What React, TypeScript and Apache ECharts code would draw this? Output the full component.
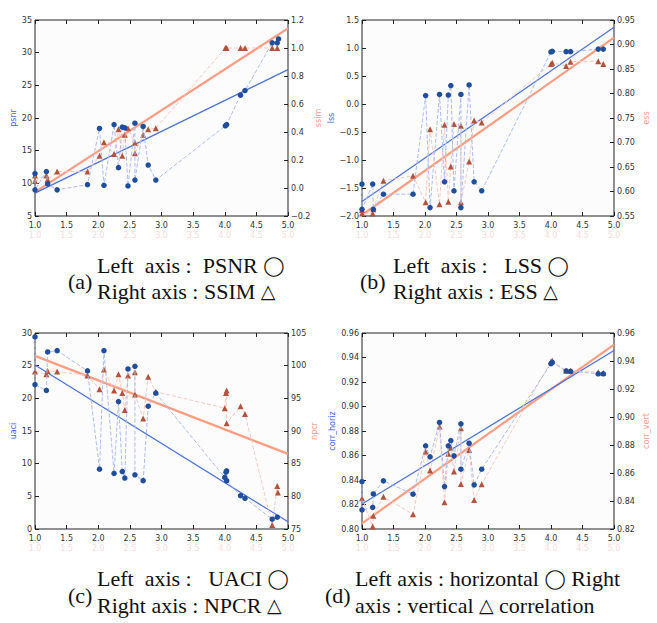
import React, { useEffect, useRef } from "react";
import * as echarts from "echarts";

// X-axis ticks shared by all four panels
const xTicks = { min: 1.0, max: 5.0, interval: 0.5 };

// (a) PSNR (left, circles) and SSIM (right, triangles)
const psnr: number[][] = [[1.0,11.5],[1.0,9.0],[1.18,11.8],[1.2,9.9],[1.35,9.0],[1.83,9.8],[2.02,18.4],[2.09,9.7],[2.25,19.0],[2.32,12.4],[2.38,18.6],[2.42,18.5],[2.47,9.6],[2.58,19.2],[2.58,10.5],[2.71,18.7],[2.79,12.8],[2.91,10.5],[4.01,18.8],[4.03,19.0],[4.25,23.5],[4.32,24.2],[4.75,31.5],[4.83,31.5],[4.85,32.1]];
const ssim: number[][] = [[1.0,0.09],[1.0,0.05],[1.18,0.09],[1.2,0.06],[1.35,0.117],[1.83,0.117],[2.02,0.23],[2.09,0.326],[2.25,0.243],[2.32,0.42],[2.38,0.23],[2.42,0.38],[2.47,0.426],[2.58,0.324],[2.58,0.248],[2.71,0.38],[2.79,0.42],[2.91,0.426],[4.01,1.0],[4.03,1.0],[4.25,1.0],[4.32,1.0],[4.75,1.0],[4.83,1.0]];
const psnrFit: number[][] = [[1.0,8.5],[5.0,27.4]];
const ssimFit: number[][] = [[1.0,-0.03],[5.0,1.14]];

// (b) LSS (left) and ESS (right)
const lss: number[][] = [[1.0,-1.43],[1.0,-1.88],[1.17,-1.43],[1.18,-1.88],[1.34,-1.61],[1.81,-1.61],[2.01,0.15],[2.08,-1.85],[2.23,0.17],[2.31,-1.39],[2.37,0.16],[2.41,0.33],[2.46,-1.55],[2.57,0.17],[2.57,-1.85],[2.70,0.34],[2.78,-1.39],[2.90,-1.55],[4.0,0.93],[4.02,0.94],[4.24,0.935],[4.31,0.935],[4.75,0.98],[4.83,0.98]];
const ess: number[][] = [[1.0,0.562],[1.0,0.555],[1.17,0.555],[1.18,0.564],[1.34,0.622],[1.81,0.632],[2.01,0.578],[2.08,0.727],[2.23,0.574],[2.31,0.736],[2.37,0.579],[2.41,0.651],[2.46,0.738],[2.57,0.734],[2.57,0.578],[2.70,0.661],[2.78,0.745],[2.90,0.741],[4.0,0.86],[4.02,0.863],[4.24,0.856],[4.31,0.865],[4.75,0.866],[4.83,0.86]];
const lssFit: number[][] = [[1.0,-1.74],[5.0,1.37]];
const essFit: number[][] = [[1.0,0.552],[5.0,0.914]];

// (c) UACI (left) and NPCR (right)
const uaci: number[][] = [[1.0,29.4],[1.0,22.1],[1.18,21.2],[1.2,27.1],[1.35,27.3],[1.83,24.2],[2.02,9.15],[2.09,27.3],[2.25,8.5],[2.32,19.5],[2.38,8.8],[2.42,7.8],[2.47,24.5],[2.58,24.9],[2.58,8.3],[2.71,7.4],[2.79,18.8],[2.91,20.8],[4.0,7.9],[4.02,8.7],[4.03,8.9],[4.03,7.4],[4.25,5.1],[4.32,4.7],[4.75,1.5],[4.83,1.8]];
const npcr: number[][] = [[1.0,99.1],[1.18,98.7],[1.2,99.2],[1.35,99.1],[1.83,98.5],[2.02,96.4],[2.09,99.4],[2.25,96.2],[2.32,98.7],[2.38,95.8],[2.42,93.2],[2.47,98.5],[2.58,99.0],[2.58,95.6],[2.71,91.9],[2.79,98.3],[2.91,96.0],[4.0,93.5],[4.02,95.8],[4.03,96.2],[4.03,91.2],[4.25,93.8],[4.32,92.6],[4.75,75.6],[4.83,81.6],[4.84,80.6]];
const uaciFit: number[][] = [[1.0,25.1],[5.0,1.1]];
const npcrFit: number[][] = [[1.0,101.5],[5.0,86.5]];

// (d) horizontal (left) and vertical (right) correlation
const corrHoriz: number[][] = [[1.0,0.8387],[1.0,0.8156],[1.17,0.8177],[1.18,0.8286],[1.34,0.8393],[1.81,0.8284],[2.01,0.8679],[2.08,0.8589],[2.23,0.887],[2.31,0.8346],[2.37,0.8679],[2.41,0.8722],[2.46,0.8597],[2.57,0.8859],[2.57,0.8488],[2.70,0.87],[2.78,0.836],[2.90,0.8488],[4.0,0.935],[4.02,0.936],[4.24,0.929],[4.31,0.9287],[4.75,0.9267],[4.83,0.9267]];
const corrVert: number[][] = [[1.0,0.842],[1.17,0.8217],[1.18,0.8295],[1.34,0.8431],[1.81,0.8305],[2.01,0.8753],[2.08,0.8617],[2.23,0.8932],[2.31,0.8391],[2.37,0.8737],[2.41,0.8782],[2.46,0.861],[2.57,0.892],[2.57,0.8522],[2.70,0.8765],[2.78,0.8408],[2.90,0.852],[4.0,0.9397],[4.02,0.9402],[4.24,0.933],[4.31,0.933],[4.75,0.9319],[4.83,0.9314]];
const horizFit: number[][] = [[1.0,0.8205],[5.0,0.9458]];
const vertFit: number[][] = [[1.0,0.824],[5.0,0.9517]];

// Axis ranges [min, max, interval, decimals]
const leftRanges = [[5, 35, 5, 0], [-2.0, 1.5, 0.5, 1], [0, 30, 5, 0], [0.8, 0.96, 0.02, 2]];
const rightRanges = [[-0.2, 1.2, 0.2, 1], [0.55, 0.95, 0.05, 2], [75, 105, 5, 0], [0.82, 0.96, 0.02, 2]];
const leftNames = ["psnr", "lss", "uaci", "corr_horiz"];
const rightNames = ["ssim", "ess", "npcr", "corr_vert"];
const leftGaps = [18, 26, 18, 26];
const rightGaps = [26, 28, 20, 28];

// Captions ({s|…} marks the outline symbols)
const captions = [
  { tag: "(a)", l1: "Left  axis :  PSNR {s|◯}", l2: "Right axis : SSIM {s|△}" },
  { tag: "(b)", l1: "Left  axis :   LSS {s|◯}", l2: "Right axis : ESS {s|△}" },
  { tag: "(c)", l1: "Left  axis :   UACI {s|◯}", l2: "Right axis : NPCR {s|△}" },
  { tag: "(d)", l1: "Left axis : horizontal {s|◯} Right", l2: "axis : vertical {s|△} correlation" },
];

const grids = [
  { left: 35, top: 20, width: 253, height: 196 },
  { left: 362, top: 20, width: 252, height: 196 },
  { left: 35, top: 333, width: 253, height: 196 },
  { left: 362, top: 333, width: 252, height: 196 },
];
const capPos = [
  { tx: 68, x: 97, y1: 265, y2: 291, ty: 281 },
  { tx: 360, x: 393, y1: 265, y2: 291, ty: 281 },
  { tx: 68, x: 97, y1: 578, y2: 605, ty: 595 },
  { tx: 325, x: 355, y1: 578, y2: 605, ty: 595 },
];

const BLUE_PT = "#1f4e9c";
const RED_PT = "#b4533c";
const BLUE_DASH = "#aabbf0";
const RED_DASH = "#f6c8c1";
const BLUE_FIT = "#4a72de";
const RED_FIT = "#ff9d82";
const LABEL = "#333";
const FONT = "DejaVu Sans";

const fmt = (d: number) => (v: number) => v.toFixed(d).replace("-", "\u2212");

export default function App() {
  const ref = useRef<HTMLDivElement>(null);
  useEffect(() => {
    if (!ref.current) return;
    const chart = echarts.init(ref.current, null, { renderer: "svg" });
    const xAxis: any[] = [];
    const yAxis: any[] = [];
    const series: any[] = [];
    const panels = [
      [psnr, ssim, psnrFit, ssimFit],
      [lss, ess, lssFit, essFit],
      [uaci, npcr, uaciFit, npcrFit],
      [corrHoriz, corrVert, horizFit, vertFit],
    ];
    const tick = { inside: true, length: 4, lineStyle: { color: "#222" } };
    const noLine = { show: false, onZero: false };
    grids.forEach((g, i) => {
      xAxis.push({
        type: "value", gridIndex: i, position: "bottom", ...xTicks,
        axisLine: noLine, axisTick: tick, splitLine: { show: false },
        axisLabel: { formatter: fmt(1), color: LABEL, fontSize: 8, fontFamily: FONT, margin: 5 },
      });
      xAxis.push({
        type: "value", gridIndex: i, position: "bottom", offset: 10, ...xTicks,
        axisLine: noLine, axisTick: { show: false }, splitLine: { show: false },
        axisLabel: { formatter: fmt(1), color: "#f8dcd8", fontSize: 8, fontFamily: FONT, margin: 5 },
      });
      xAxis.push({
        type: "value", gridIndex: i, position: "top", ...xTicks,
        axisLine: noLine, axisTick: tick, splitLine: { show: false }, axisLabel: { show: false },
      });
      const L = leftRanges[i], R = rightRanges[i];
      yAxis.push({
        type: "value", gridIndex: i, position: "left", min: L[0], max: L[1], interval: L[2],
        name: leftNames[i], nameLocation: "middle", nameGap: leftGaps[i], nameRotate: 90,
        nameTextStyle: { color: "#4060e6", fontSize: 8, fontFamily: FONT },
        axisLine: noLine, axisTick: tick, splitLine: { show: false },
        axisLabel: { formatter: fmt(L[3]), color: LABEL, fontSize: 8, fontFamily: FONT, margin: 3 },
      });
      yAxis.push({
        type: "value", gridIndex: i, position: "right", min: R[0], max: R[1], interval: R[2],
        name: rightNames[i], nameLocation: "middle", nameGap: rightGaps[i], nameRotate: 90,
        nameTextStyle: { color: "#ff9a86", fontSize: 8, fontFamily: FONT },
        axisLine: noLine, axisTick: tick, splitLine: { show: false },
        axisLabel: { formatter: fmt(R[3]), color: LABEL, fontSize: 8, fontFamily: FONT, margin: 3 },
      });
      const [lp, rp, lf, rf] = panels[i];
      series.push({
        type: "line", xAxisIndex: i * 3, yAxisIndex: i * 2 + 1, data: rp,
        symbol: "triangle", symbolSize: 6, z: 3,
        lineStyle: { type: "dashed", color: RED_DASH, width: 1 },
        itemStyle: { color: RED_PT }, silent: true,
      });
      series.push({
        type: "line", xAxisIndex: i * 3, yAxisIndex: i * 2, data: lp,
        symbol: "circle", symbolSize: 5.5, z: 4,
        lineStyle: { type: "dashed", color: BLUE_DASH, width: 1 },
        itemStyle: { color: BLUE_PT }, silent: true,
      });
      series.push({
        type: "line", xAxisIndex: i * 3, yAxisIndex: i * 2 + 1, data: rf,
        showSymbol: false, z: 2, lineStyle: { color: RED_FIT, width: 2.2 }, silent: true,
      });
      series.push({
        type: "line", xAxisIndex: i * 3, yAxisIndex: i * 2, data: lf,
        showSymbol: false, z: 2, lineStyle: { color: BLUE_FIT, width: 1.2 }, silent: true,
      });
    });

    const graphic: any[] = [];
    captions.forEach((c, i) => {
      const p = capPos[i];
      const base = {
        fontSize: 22, fontFamily: "Liberation Serif", fill: "#111", verticalAlign: "middle",
        rich: { s: { fontSize: 19, fontFamily: "DejaVu Sans", fill: "#111" } },
      };
      graphic.push({ type: "text", x: p.tx, y: p.ty, style: { ...base, text: c.tag } });
      graphic.push({ type: "text", x: p.x, y: p.y1, style: { ...base, text: c.l1 } });
      graphic.push({ type: "text", x: p.x, y: p.y2, style: { ...base, text: c.l2 } });
    });

    chart.setOption({
      animation: false,
      backgroundColor: "#ffffff",
      grid: grids.map((g) => ({
        ...g, show: true, borderColor: "#222", borderWidth: 1, backgroundColor: "#fcfcfc",
        containLabel: false,
      })),
      xAxis, yAxis, series, graphic,
    });
    return () => chart.dispose();
  }, []);
  return (
    <div
      ref={ref}
      style={{ position: "absolute", left: 0, top: 0, width: 657, height: 623 }}
    />
  );
}
